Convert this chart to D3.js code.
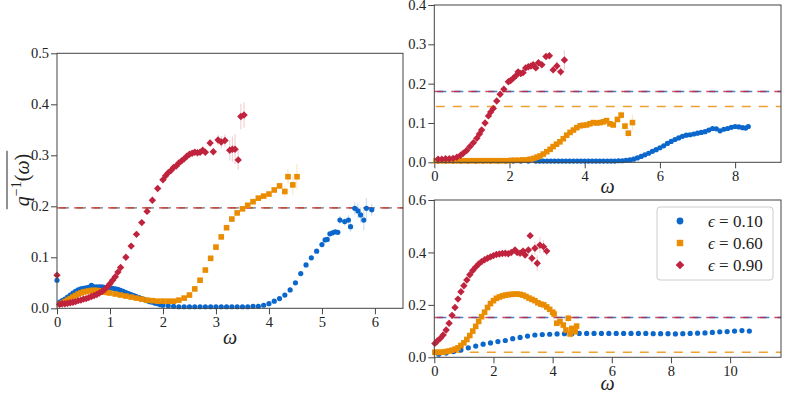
<!DOCTYPE html>
<html lang="en">
<head>
<meta charset="UTF-8">
<title>inverse q</title>
<script src="https://d3js.org/d3.v7.min.js"></script>
<style>
  body { margin: 0; background: #fff; }
</style>
</head>
<body>
<script>
// ---- data: [omega, q, errorbar] ----
var leftBlue = [[0.0,0.055],[0.05,0.012],[0.1,0.015],[0.15,0.018],[0.2,0.022],[0.25,0.026],[0.3,0.03],[0.35,0.033],[0.4,0.036],[0.45,0.038],[0.5,0.039],[0.55,0.04],[0.6,0.041],[0.65,0.045],[0.7,0.042],[0.75,0.042],[0.8,0.042],[0.85,0.042],[0.9,0.041],[0.95,0.041],[1.0,0.04],[1.05,0.039],[1.1,0.038],[1.15,0.037],[1.2,0.035],[1.25,0.033],[1.3,0.031],[1.35,0.029],[1.4,0.027],[1.45,0.025],[1.5,0.023],[1.55,0.021],[1.6,0.019],[1.65,0.017],[1.7,0.015],[1.75,0.013],[1.8,0.012],[1.85,0.01],[1.9,0.009],[1.95,0.007],[2.0,0.006],[2.1,0.005],[2.2,0.004],[2.3,0.003],[2.4,0.003],[2.5,0.003],[2.6,0.003],[2.7,0.003],[2.8,0.003],[2.9,0.003],[3.0,0.003],[3.1,0.003],[3.2,0.003],[3.3,0.003],[3.4,0.003],[3.5,0.003],[3.6,0.003],[3.7,0.004],[3.8,0.004],[3.9,0.006],[4.0,0.009],[4.1,0.014],[4.2,0.019],[4.3,0.026],[4.4,0.036],[4.5,0.05],[4.6,0.068],[4.7,0.085],[4.8,0.099],[4.9,0.112],[5.0,0.125],[5.06,0.134],[5.1,0.135],[5.15,0.146],[5.2,0.148],[5.25,0.15],[5.3,0.149],[5.34,0.173,0.008],[5.43,0.17,0.008],[5.5,0.173,0.01],[5.54,0.16,0.01],[5.62,0.196,0.012],[5.68,0.191,0.015],[5.73,0.183,0.015],[5.79,0.173,0.02],[5.84,0.196,0.02],[5.94,0.193,0.012]];
var leftOrange = [[0.05,0.008],[0.1,0.01],[0.15,0.013],[0.2,0.016],[0.25,0.019],[0.3,0.022],[0.35,0.025],[0.4,0.028],[0.45,0.03],[0.5,0.032],[0.55,0.033],[0.6,0.034],[0.65,0.035],[0.7,0.035],[0.75,0.035],[0.8,0.034],[0.85,0.033],[0.9,0.032],[0.95,0.031],[1.0,0.03],[1.1,0.028],[1.2,0.026],[1.3,0.024],[1.4,0.022],[1.5,0.02],[1.6,0.018],[1.7,0.016],[1.8,0.015],[1.9,0.014],[2.0,0.014],[2.1,0.014],[2.2,0.014],[2.3,0.016],[2.4,0.02],[2.5,0.026],[2.6,0.038],[2.7,0.055],[2.8,0.075],[2.9,0.098],[3.0,0.12],[3.1,0.14],[3.2,0.158],[3.3,0.175],[3.4,0.187],[3.5,0.195],[3.6,0.202],[3.7,0.209],[3.8,0.216],[3.9,0.22],[4.0,0.224],[4.1,0.232],[4.2,0.24,0.006],[4.3,0.229,0.01],[4.36,0.258,0.015],[4.45,0.242,0.02],[4.53,0.258,0.025]];
var leftRed = [[0.0,0.065],[0.05,0.008],[0.1,0.009],[0.15,0.009],[0.2,0.01],[0.25,0.011],[0.3,0.012],[0.35,0.013],[0.4,0.015],[0.45,0.016],[0.5,0.018],[0.55,0.019],[0.6,0.021],[0.65,0.023],[0.7,0.025],[0.75,0.027],[0.8,0.03],[0.85,0.033],[0.9,0.037],[0.95,0.042],[1.0,0.048],[1.05,0.055],[1.1,0.062],[1.15,0.071],[1.2,0.08],[1.3,0.1],[1.4,0.122],[1.5,0.145],[1.6,0.168],[1.7,0.19],[1.8,0.212],[1.9,0.235],[2.0,0.252],[2.05,0.26],[2.1,0.266],[2.15,0.27],[2.2,0.276],[2.25,0.279],[2.3,0.285],[2.35,0.289],[2.4,0.293],[2.45,0.298],[2.5,0.302],[2.55,0.304],[2.6,0.306],[2.65,0.305],[2.7,0.306],[2.75,0.31],[2.8,0.306],[2.89,0.324,0.006],[2.95,0.307,0.006],[3.04,0.33,0.01],[3.1,0.326,0.012],[3.17,0.329,0.012],[3.26,0.31,0.02],[3.31,0.312,0.025],[3.36,0.312,0.03],[3.42,0.291,0.02],[3.47,0.376,0.025],[3.53,0.379,0.025]];
var leftLines = [0.197, 0.197, 0.197]; // blue, orange, red

var topBlue = [[0.1,0.003],[0.3,0.003],[0.5,0.003],[0.7,0.003],[0.9,0.003],[1.1,0.003],[1.3,0.003],[1.5,0.003],[1.7,0.003],[1.9,0.003],[2.1,0.003],[2.3,0.003],[2.5,0.003],[2.7,0.003],[2.8,0.003],[2.9,0.003],[3.0,0.003],[3.1,0.003],[3.2,0.003],[3.3,0.003],[3.4,0.003],[3.5,0.003],[3.6,0.003],[3.7,0.003],[3.8,0.003],[3.9,0.003],[4.0,0.003],[4.1,0.003],[4.2,0.003],[4.3,0.003],[4.4,0.003],[4.5,0.003],[4.6,0.003],[4.7,0.003],[4.8,0.003],[4.9,0.004],[5.0,0.004],[5.1,0.005],[5.2,0.006],[5.3,0.008],[5.4,0.011],[5.5,0.015],[5.6,0.019],[5.7,0.023],[5.8,0.028],[5.9,0.032],[6.0,0.037],[6.1,0.042],[6.2,0.048],[6.3,0.053],[6.4,0.058],[6.5,0.062],[6.6,0.066],[6.7,0.069],[6.8,0.07],[6.9,0.072],[7.0,0.074],[7.1,0.076],[7.2,0.078],[7.3,0.082],[7.4,0.086],[7.5,0.085],[7.6,0.08],[7.7,0.084],[7.8,0.086],[7.9,0.089],[8.0,0.091],[8.1,0.09],[8.2,0.088],[8.28,0.087],[8.35,0.091]];
var topOrange = [[0.05,0.004],[0.15,0.004],[0.25,0.004],[0.35,0.004],[0.45,0.004],[0.55,0.004],[0.65,0.004],[0.75,0.004],[0.85,0.004],[0.95,0.004],[1.05,0.004],[1.15,0.004],[1.25,0.004],[1.35,0.004],[1.45,0.004],[1.55,0.004],[1.65,0.004],[1.75,0.004],[1.85,0.004],[1.95,0.004],[2.05,0.005],[2.15,0.005],[2.25,0.005],[2.35,0.006],[2.45,0.006],[2.55,0.008],[2.65,0.01],[2.73,0.013],[2.81,0.016],[2.9,0.021],[2.99,0.027],[3.08,0.033],[3.16,0.04],[3.25,0.046],[3.34,0.052],[3.43,0.06],[3.52,0.069],[3.61,0.076],[3.7,0.082],[3.79,0.088],[3.88,0.093],[3.96,0.094],[4.05,0.095],[4.14,0.098],[4.23,0.101],[4.32,0.1],[4.41,0.101],[4.5,0.103],[4.58,0.106],[4.67,0.098],[4.76,0.095,0.005],[4.87,0.109,0.008],[4.97,0.12,0.01],[5.07,0.092,0.01],[5.16,0.074,0.012],[5.27,0.101,0.02]];
var topRed = [[0.1,0.008],[0.2,0.008],[0.3,0.009],[0.4,0.009],[0.5,0.01],[0.6,0.013],[0.7,0.018],[0.77,0.023],[0.86,0.03],[0.95,0.04],[1.04,0.05],[1.13,0.061],[1.2,0.072],[1.26,0.082],[1.35,0.1],[1.44,0.118],[1.5,0.128],[1.57,0.137],[1.66,0.156],[1.75,0.173],[1.85,0.186],[1.97,0.205],[2.03,0.208],[2.1,0.214],[2.17,0.22],[2.23,0.23],[2.3,0.226],[2.36,0.228],[2.43,0.24],[2.5,0.243],[2.57,0.245],[2.63,0.248],[2.7,0.24],[2.77,0.253],[2.86,0.248],[2.97,0.269,0.005],[3.06,0.271,0.006],[3.16,0.235,0.01],[3.26,0.245,0.012],[3.36,0.23,0.012],[3.46,0.26,0.025]];
var topLines = [0.18, 0.142, 0.18];

var botBlue = [[0.15,0.012],[0.4,0.016],[0.65,0.022],[0.9,0.028],[1.15,0.036],[1.4,0.043],[1.65,0.05],[1.9,0.055],[2.15,0.06],[2.4,0.064],[2.65,0.071],[2.9,0.076],[3.15,0.081],[3.4,0.085],[3.65,0.087],[3.9,0.088],[4.15,0.089],[4.4,0.09],[4.65,0.09],[4.9,0.091],[5.15,0.091],[5.4,0.091],[5.65,0.091],[5.9,0.091],[6.15,0.091],[6.4,0.091],[6.65,0.091],[6.9,0.091],[7.15,0.091],[7.4,0.09],[7.65,0.09],[7.9,0.09],[8.15,0.089],[8.4,0.09],[8.65,0.091],[8.9,0.092],[9.15,0.093],[9.4,0.095],[9.65,0.097],[9.9,0.098],[10.15,0.1],[10.4,0.102],[10.65,0.1]];
var botOrange = [[0.02,0.019],[0.1,0.019],[0.2,0.019],[0.3,0.02],[0.4,0.022],[0.5,0.024],[0.6,0.027],[0.7,0.031],[0.8,0.036],[0.9,0.045],[1.0,0.055],[1.1,0.068],[1.2,0.083],[1.3,0.1],[1.4,0.118],[1.5,0.137],[1.6,0.155],[1.7,0.172],[1.8,0.19],[1.9,0.205],[2.0,0.216],[2.1,0.225],[2.2,0.23],[2.3,0.234],[2.4,0.237],[2.5,0.239],[2.6,0.24],[2.7,0.241],[2.8,0.241],[2.9,0.24],[3.0,0.237],[3.1,0.232],[3.2,0.226],[3.3,0.221],[3.4,0.216],[3.5,0.208],[3.6,0.203],[3.7,0.2],[3.8,0.192],[3.9,0.183],[4.0,0.172],[4.05,0.165,0.005],[4.14,0.13,0.006],[4.25,0.136,0.008],[4.36,0.123,0.01],[4.45,0.104,0.012],[4.53,0.149,0.015],[4.59,0.089,0.015],[4.65,0.11,0.015],[4.7,0.104,0.012],[4.76,0.098,0.01],[4.81,0.119,0.01]];
var botRed = [[0.02,0.053],[0.1,0.062],[0.2,0.072],[0.3,0.085],[0.4,0.104],[0.5,0.13],[0.6,0.16],[0.7,0.19],[0.8,0.222],[0.9,0.25],[1.0,0.273],[1.1,0.295],[1.2,0.315],[1.3,0.331],[1.4,0.344],[1.5,0.356],[1.6,0.365],[1.7,0.372],[1.8,0.378],[1.9,0.383],[2.0,0.388],[2.1,0.392],[2.2,0.394],[2.3,0.396],[2.4,0.397],[2.5,0.395],[2.6,0.4],[2.73,0.409],[2.8,0.4],[2.9,0.397],[3.0,0.405],[3.07,0.39,0.008],[3.18,0.409,0.01],[3.24,0.464,0.012],[3.3,0.378,0.02],[3.4,0.416,0.025],[3.48,0.359,0.03],[3.57,0.428,0.03],[3.69,0.422,0.025],[3.8,0.405,0.02]];
var botLines = [0.152, 0.019, 0.152];

var legendLabels = ["0.10", "0.60", "0.90"];
var colors = ["#0b67cb", "#ea8c00", "#c0233d"];

var FONT = "Liberation Serif";

var svg = d3.select("body").append("svg")
  .attr("width", 793).attr("height", 393);

function marker(sel, k, size) {
  // k: 0 circle, 1 square, 2 diamond
  if (k == 0) {
    sel.append("circle").attr("r", size / 2);
  } else if (k == 1) {
    sel.append("rect").attr("x", -size / 2).attr("y", -size / 2)
      .attr("width", size).attr("height", size);
  } else {
    var s = size / Math.SQRT2;
    sel.append("rect").attr("x", -s / 2).attr("y", -s / 2)
      .attr("width", s).attr("height", s).attr("transform", "rotate(45)");
  }
}

function drawPanel(p) {
  var x = d3.scaleLinear().domain([0, p.xmax]).range([p.left, p.right]);
  var y = d3.scaleLinear().domain([0, p.ymax]).range([p.bottom, p.top]);
  var g = svg.append("g");

  var xa = g.append("g").attr("transform", "translate(0," + p.bottom + ")")
    .call(d3.axisBottom(x).tickValues(p.xticks).tickSize(6).tickPadding(2).tickFormat(d3.format("d")));
  var ya = g.append("g").attr("transform", "translate(" + p.left + ",0)")
    .call(d3.axisLeft(y).tickValues(p.yticks).tickSize(6).tickPadding(2).tickFormat(d3.format(".1f")));
  [xa, ya].forEach(function (a) {
    a.attr("font-family", FONT).attr("font-size", 14.5);
    a.select(".domain").remove();
    a.selectAll("line").attr("stroke", "#444");
    a.selectAll("text").attr("font-family", FONT).attr("font-size", 14.5).attr("fill", "#222");
  });

  // dashed reference lines
  var offs = [-3, -1.5, 0];
  p.lines.forEach(function (v, i) {
    g.append("line").attr("x1", p.left).attr("x2", p.right)
      .attr("y1", y(v)).attr("y2", y(v))
      .attr("stroke", colors[i]).attr("stroke-width", 1.4).attr("opacity", 0.8)
      .attr("stroke-dasharray", "9,8").attr("stroke-dashoffset", offs[i]);
  });

  var sizes = [5.2, 5.6, 7.4];
  p.series.forEach(function (data, k) {
    var sg = g.append("g");
    sg.selectAll("line.err").data(data.filter(function (d) { return d[2]; }))
      .enter().append("line")
      .attr("x1", function (d) { return x(d[0]); }).attr("x2", function (d) { return x(d[0]); })
      .attr("y1", function (d) { return y(d[1] - d[2]); }).attr("y2", function (d) { return y(d[1] + d[2]); })
      .attr("stroke", colors[k]).attr("stroke-width", 1.2).attr("opacity", 0.2);
    sg.selectAll("g.pt").data(data).enter().append("g")
      .attr("fill", colors[k])
      .attr("transform", function (d) { return "translate(" + x(d[0]) + "," + y(d[1]) + ")"; })
      .each(function () { marker(d3.select(this), k, sizes[k]); });
  });

  g.append("rect").attr("x", p.left).attr("y", p.top)
    .attr("width", p.right - p.left).attr("height", p.bottom - p.top)
    .attr("fill", "none").attr("stroke", "#444").attr("stroke-width", 1);

  g.append("text").attr("x", (p.left + p.right) / 2).attr("y", p.xlabY)
    .attr("text-anchor", "middle").attr("font-family", FONT).attr("font-size", 20)
    .attr("font-style", "italic").attr("fill", "#222").text("ω");
  return {x: x, y: y};
}

drawPanel({left: 57, right: 403, top: 53.3, bottom: 308.3, xmax: 6.53, ymax: 0.5,
  xticks: [0, 1, 2, 3, 4, 5, 6], yticks: [0, 0.1, 0.2, 0.3, 0.4, 0.5],
  series: [leftBlue, leftOrange, leftRed], lines: leftLines, xlabY: 344});

drawPanel({left: 434.3, right: 781, top: 5, bottom: 162.3, xmax: 9.22, ymax: 0.4,
  xticks: [0, 2, 4, 6, 8], yticks: [0, 0.1, 0.2, 0.3, 0.4],
  series: [topBlue, topOrange, topRed], lines: topLines, xlabY: 193});

drawPanel({left: 434.3, right: 781, top: 200, bottom: 357.3, xmax: 11.72, ymax: 0.6,
  xticks: [0, 2, 4, 6, 8, 10], yticks: [0, 0.2, 0.4, 0.6],
  series: [botBlue, botOrange, botRed], lines: botLines, xlabY: 390});

// y label with overline
var yl = svg.append("g").attr("transform", "translate(29,180) rotate(-90)");
var yt = yl.append("text").attr("text-anchor", "middle").attr("font-family", FONT)
  .attr("font-size", 20).attr("fill", "#222");
yt.append("tspan").attr("font-style", "italic").text("q");
yt.append("tspan").attr("font-size", 14).attr("dy", -8).text("−1");
yt.append("tspan").attr("dy", 8).text("(");
yt.append("tspan").attr("font-style", "italic").text("ω");
yt.append("tspan").text(")");
var bb = yt.node().getBBox();
yl.append("line").attr("x1", bb.x - 3).attr("x2", bb.x + bb.width + 3)
  .attr("y1", -22).attr("y2", -22).attr("stroke", "#222").attr("stroke-width", 1);

// legend
var lg = svg.append("g").attr("transform", "translate(657,207)");
lg.append("rect").attr("width", 116).attr("height", 73).attr("rx", 3)
  .attr("fill", "#fff").attr("fill-opacity", 0.85).attr("stroke", "#ccc");
legendLabels.forEach(function (lab, k) {
  var row = lg.append("g").attr("transform", "translate(0," + (14 + k * 22) + ")");
  var m = row.append("g").attr("transform", "translate(23,0)").attr("fill", colors[k]);
  marker(m, k, [6.8, 6.4, 8.6][k]);
  var t = row.append("text").attr("x", 51).attr("y", 5.5).attr("font-family", FONT)
    .attr("font-size", 17).attr("fill", "#222");
  t.append("tspan").attr("font-style", "italic").text("ϵ");
  t.append("tspan").text(" = " + lab);
});
</script>
</body>
</html>
